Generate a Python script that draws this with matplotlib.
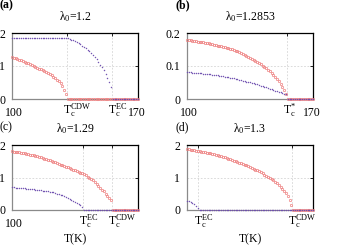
import numpy as np
import matplotlib
matplotlib.use("Agg")
import matplotlib.pyplot as plt

plt.rcParams['font.family'] = ['Liberation Serif', 'DejaVu Serif']
plt.rcParams['mathtext.fontset'] = 'custom'
plt.rcParams['mathtext.rm'] = 'Liberation Serif'
plt.rcParams['mathtext.it'] = 'Liberation Serif:italic'

T_MIN, T_MAX = 100, 170

# ---------- panel (a), lambda0 = 1.2 ----------
a_title = "λ$_0$=1.2"
a_tc = [130.5, 155.6]
a_tc_labels = [r"$\mathrm{T}_\mathrm{c}^\mathrm{CDW}$", r"$\mathrm{T}_\mathrm{c}^\mathrm{EC}$"]
a_red = [1.27, 1.25, 1.23, 1.21, 1.19, 1.17, 1.15, 1.13, 1.10, 1.08, 1.06,
         1.03, 1.01, 0.98, 0.95, 0.92, 0.90, 0.88, 0.86, 0.83, 0.80, 0.77,
         0.73, 0.68, 0.64, 0.59, 0.54, 0.48, 0.38, 0.28, 0.14]
a_purple = [1.84, 1.84, 1.84, 1.84, 1.84, 1.84, 1.84, 1.84, 1.84, 1.84, 1.84,
            1.84, 1.84, 1.84, 1.84, 1.85, 1.85, 1.85, 1.85, 1.85, 1.85, 1.85,
            1.85, 1.85, 1.85, 1.85, 1.85, 1.85, 1.85, 1.85, 1.85,
            1.84, 1.82, 1.80, 1.78, 1.76, 1.73, 1.70, 1.66, 1.62, 1.58,
            1.54, 1.49, 1.44, 1.38, 1.32, 1.26, 1.20, 1.12, 1.04, 0.96,
            0.87, 0.76, 0.64, 0.52, 0.36]

# ---------- panel (b), lambda0 = 1.2853 ----------
b_title = "λ$_0$=1.2853"
b_tc = [155.4]
b_tc_labels = [r"$\mathrm{T}_\mathrm{c}^{*}$"]
b_red = [.179, .178, .178, .177, .176, .175, .174, .174, .173, .172, .171,
         .170, .169, .167, .166, .165, .164, .162, .161, .160, .158, .157,
         .155, .154, .152, .150, .148, .146, .144, .142, .138, .135, .133,
         .130, .128, .125, .122, .119, .116, .113, .109, .105, .101, .097,
         .093, .089, .084, .079, .074, .068, .061, .054, .046, .036, .026, .015]
b_purple = [.082, .081, .081, .080, .080, .079, .079, .078, .078, .077, .077,
            .076, .075, .075, .074, .073, .072, .072, .071, .070, .069, .068,
            .067, .066, .065, .064, .063, .062, .060, .059, .058, .056, .055,
            .053, .052, .050, .049, .047, .045, .044, .042, .040, .038, .037,
            .035, .033, .031, .029, .027, .025, .023, .021, .020, .018, .016, .014]

# ---------- panel (c), lambda0 = 1.29 ----------
c_title = "λ$_0$=1.29"
c_tc = [139.6, 155.4]
c_tc_labels = [r"$\mathrm{T}_\mathrm{c}^\mathrm{EC}$", r"$\mathrm{T}_\mathrm{c}^\mathrm{CDW}$"]
c_red = [1.81, 1.80, 1.79, 1.78, 1.77, 1.76, 1.75, 1.74, 1.73, 1.71, 1.70,
         1.69, 1.68, 1.66, 1.65, 1.63, 1.62, 1.60, 1.58, 1.57, 1.55, 1.53,
         1.51, 1.49, 1.47, 1.44, 1.42, 1.40, 1.37, 1.35, 1.33, 1.31, 1.28,
         1.26, 1.24, 1.22, 1.20, 1.17, 1.15, 1.13, 1.10, 1.07, 1.03, 1.00,
         0.96, 0.91, 0.86, 0.81, 0.75, 0.69, 0.63, 0.57, 0.50, 0.43, 0.37, 0.31]
c_purple = [0.70, 0.70, 0.69, 0.69, 0.68, 0.68, 0.67, 0.67, 0.66, 0.66, 0.65,
            0.65, 0.64, 0.63, 0.63, 0.62, 0.61, 0.60, 0.59, 0.58, 0.57, 0.56,
            0.55, 0.54, 0.52, 0.50, 0.49, 0.47, 0.45, 0.42, 0.40, 0.37, 0.35,
            0.32, 0.29, 0.26, 0.22, 0.18, 0.14, 0.08]

# ---------- panel (d), lambda0 = 1.3 ----------
d_title = "λ$_0$=1.3"
d_tc = [106.3, 158.5]
d_tc_labels = [r"$\mathrm{T}_\mathrm{c}^\mathrm{EC}$", r"$\mathrm{T}_\mathrm{c}^\mathrm{CDW}$"]
d_red = [1.88, 1.87, 1.86, 1.85, 1.84, 1.83, 1.82, 1.81, 1.80, 1.79, 1.77,
         1.76, 1.75, 1.74, 1.72, 1.71, 1.70, 1.68, 1.67, 1.65, 1.64, 1.62,
         1.60, 1.58, 1.56, 1.54, 1.52, 1.50, 1.48, 1.46, 1.44, 1.41, 1.39,
         1.37, 1.34, 1.32, 1.29, 1.27, 1.24, 1.22, 1.19, 1.16, 1.13, 1.09,
         1.06, 1.03, 0.99, 0.95, 0.91, 0.87, 0.82, 0.77, 0.71, 0.65, 0.59,
         0.52, 0.43, 0.32, 0.16]
d_purple = [0.29, 0.27, 0.25, 0.21, 0.17, 0.12, 0.06]

panels = [
    dict(label="(a)", bold=True, title=a_title, tc=a_tc, tcl=a_tc_labels,
         red=a_red, purple=a_purple, ymax=2.0, yticks=[0, 1, 2],
         yticklabels=["0", "1", "2"], xends=["100", "170"], xlabel=False,
         rect=[12, 33, 126, 66], lab_y=5),
    dict(label="(b)", bold=True, title=b_title, tc=b_tc, tcl=b_tc_labels,
         red=b_red, purple=b_purple, ymax=0.2, yticks=[0, 0.1, 0.2],
         yticklabels=["0", "0.1", "0.2"], xends=["100", "170"], xlabel=False,
         rect=[187, 33, 126, 66], lab_y=5),
    dict(label="(c)", bold=False, title=c_title, tc=c_tc, tcl=c_tc_labels,
         red=c_red, purple=c_purple, ymax=2.0, yticks=[0, 1, 2],
         yticklabels=["0", "1", "2"], xends=["100", None], xlabel=True,
         rect=[12, 145, 126, 65], lab_y=127),
    dict(label="(d)", bold=False, title=d_title, tc=d_tc, tcl=d_tc_labels,
         red=d_red, purple=d_purple, ymax=2.0, yticks=[0, 1, 2],
         yticklabels=["0", "1", "2"], xends=[None, None], xlabel=True,
         rect=[187, 145, 126, 65], lab_y=127),
]

W, H = 350, 245
fig = plt.figure(figsize=(W / 100, H / 100), dpi=100)

RED = '#ee7f7f'
PURPLE = '#6e4eb0'
FS = 8.5

def series(vals):
    t = list(range(T_MIN, T_MIN + len(vals)))
    tail_t = list(range(T_MIN + len(vals), T_MAX + 1))
    return t + tail_t, list(vals) + [0.0] * len(tail_t)

for p in panels:
    x0, y0, w, h = p['rect']
    ax = fig.add_axes([x0 / W, 1 - (y0 + h) / H, w / W, h / H])
    ax.set_xlim(T_MIN, T_MAX)
    ax.set_ylim(0, p['ymax'])
    ax.axhline(p['ymax'] / 2, color='#d4d4d4', lw=0.6, ls=(0, (2, 2)), zorder=0)
    for tc in p['tc']:
        ax.axvline(tc, color='#d4d4d4', lw=0.6, ls=(0, (2, 2)), zorder=0)
    tr, yr = series(p['red'])
    tp, yp = series(p['purple'])
    ax.plot(tr, yr, ls='none', marker='o', ms=1.7, mfc='none', mec=RED,
            mew=0.5, clip_on=False, zorder=3)
    ax.plot(tp, yp, ls='none', marker='.', ms=1.5, color=PURPLE,
            mew=0.3, clip_on=False, zorder=4)
    for side in ['top', 'right']:
        ax.spines[side].set_color('black')
        ax.spines[side].set_linewidth(0.9)
    for side in ['left', 'bottom']:
        ax.spines[side].set_color('#8a8a8a')
        ax.spines[side].set_linewidth(0.9)
    ax.set_yticks(p['yticks'])
    ax.set_yticklabels(p['yticklabels'], fontsize=FS)
    ax.tick_params(axis='y', direction='in', length=2.5, width=0.6, pad=5,
                   right=True, left=False, colors='black')
    ax.set_xticks(p['tc'])
    ax.set_xticklabels([])
    ax.tick_params(axis='x', direction='in', length=2.5, width=0.6,
                   top=True, bottom=False)
    for tc, lab in zip(p['tc'], p['tcl']):
        ax.annotate(lab, xy=(tc, 0), xycoords=('data', 'axes fraction'),
                    xytext=(-2.8, -2), textcoords='offset points',
                    ha='left', va='top', fontsize=FS)
    if p['xends'][0]:
        ax.annotate(p['xends'][0], xy=(T_MIN, 0), xycoords=('data', 'axes fraction'),
                    xytext=(1.5, -5.5), textcoords='offset points',
                    ha='center', va='top', fontsize=FS)
    if p['xends'][1]:
        ax.annotate(p['xends'][1], xy=(T_MAX, 0), xycoords=('data', 'axes fraction'),
                    xytext=(-0.5, -5.5), textcoords='offset points',
                    ha='center', va='top', fontsize=FS)
    ax.set_title(p['title'], fontsize=FS, pad=9)
    if p['xlabel']:
        ax.text(0.5, -29 / h, 'T(K)', transform=ax.transAxes, ha='center',
                va='center', fontsize=FS)
    fig.text((x0 - 12) / W, 1 - p['lab_y'] / H, p['label'], ha='left',
             va='center', fontsize=FS, fontweight='bold' if p['bold'] else 'normal')

fig.savefig('out.png', dpi=100)
